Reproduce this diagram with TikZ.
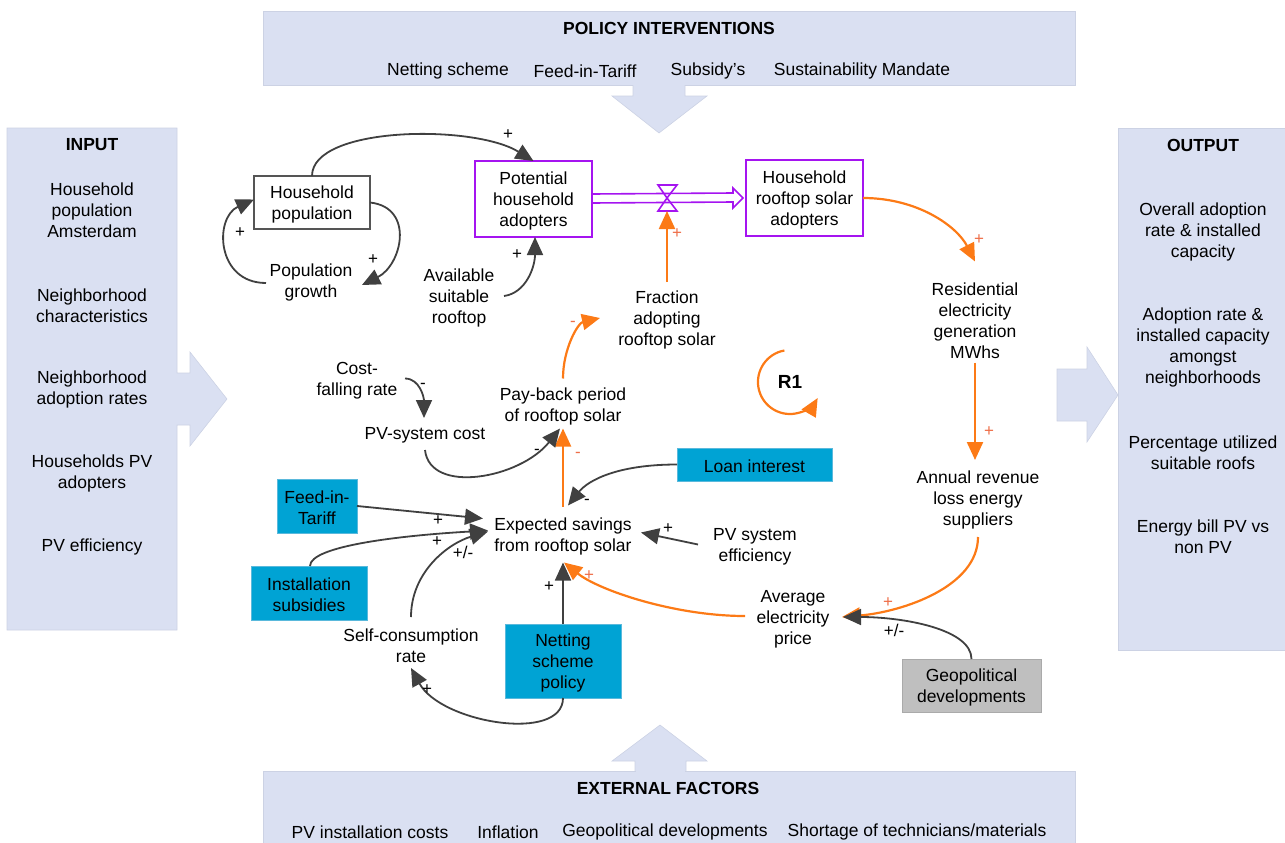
\documentclass[tikz,border=0pt]{standalone}
\usepackage{fontspec}
\setmainfont{Liberation Sans}
\usetikzlibrary{arrows.meta,calc}

\definecolor{panel}{RGB}{218,224,242}
\definecolor{paneledge}{RGB}{204,210,228}
\definecolor{linkc}{RGB}{64,64,64}
\definecolor{loopc}{RGB}{252,122,22}
\definecolor{loopsign}{RGB}{238,110,72}
\definecolor{stockc}{RGB}{165,20,240}
\definecolor{leverc}{RGB}{0,163,212}
\definecolor{leveredge}{RGB}{90,185,220}
\definecolor{extc}{RGB}{191,191,191}
\definecolor{extedge}{RGB}{170,170,170}
\definecolor{boxedge}{RGB}{85,85,85}

\newcommand{\txtfont}{\fontsize{17.5pt}{21pt}\selectfont}
\newcommand{\sgnfont}{\fontsize{17pt}{17pt}\selectfont}
% a zero-width strut on the first line centres the letter bodies on the node
\newcommand{\fs}{\rule{0pt}{16.5pt}}

\tikzset{
  var/.style={align=center, inner sep=2pt, font=\txtfont},
  head/.style={align=center, inner sep=2pt, font=\txtfont\bfseries},
  stockbox/.style={draw=stockc, line width=2pt, minimum width=117pt, minimum height=76pt,
    align=center, font=\txtfont, inner sep=1pt},
  levelbox/.style={draw=boxedge, line width=1.8pt, minimum width=116pt, minimum height=53pt,
    align=center, font=\txtfont, inner sep=1pt},
  leverbox/.style={fill=leverc, draw=leveredge, line width=0.6pt, align=center,
    font=\txtfont, inner sep=1pt},
  extbox/.style={fill=extc, draw=extedge, line width=0.8pt, align=center,
    font=\txtfont, inner sep=1pt},
  link/.style={draw=linkc, line width=1.8pt, -{Triangle[length=18pt,width=16pt]}},
  looplink/.style={draw=loopc, line width=2.2pt, -{Triangle[length=18pt,width=16pt]}},
  sign/.style={font=\sgnfont, inner sep=0pt, text=black},
  osign/.style={sign, text=loopsign},
  panelfill/.style={fill=panel, draw=paneledge, line width=0.6pt}
}

\begin{document}
\begin{tikzpicture}[x=1pt, y=-1pt]
\useasboundingbox (0,0) rectangle (1285,843);

% ---------- framing panels ----------
\path[panelfill] (263,11) rectangle (1075,85);
\path[panelfill] (633,85) -- (633,96) -- (612,96) -- (659,133) -- (707,96) -- (685,96) -- (685,85);
\fill[panel] (634,84) rectangle (684,97);

\path[panelfill] (263,771) rectangle (1075,843);
\path[panelfill] (635,771) -- (635,761) -- (612,761) -- (660,725) -- (707,761) -- (686,761) -- (686,771);
\fill[panel] (636,760) rectangle (685,772);

\path[panelfill] (7,128) -- (177,128) -- (177,373) -- (190,373) -- (190,352) -- (227,399)
  -- (190,446) -- (190,425) -- (177,425) -- (177,630) -- (7,630) -- cycle;

\path[panelfill] (1118,128) rectangle (1285,650);
\path[panelfill] (1057,369) -- (1087,369) -- (1087,347) -- (1118,395) -- (1087,442)
  -- (1087,421) -- (1057,421) -- cycle;

% panel texts
\node[head] (polt) at (669,28) {POLICY INTERVENTIONS};
\node[var] (pol1) at (448,69) {\fs Netting scheme};
\node[var] (pol2) at (585,69) {\fs Feed-in-Tariff};
\node[var] (pol3) at (708,69) {\fs Subsidy's};
\node[var] (pol4) at (862,69) {\fs Sustainability Mandate};

\node[head] (extt) at (668,788) {EXTERNAL FACTORS};
\node[var] (ext1) at (370,830) {\fs PV installation costs};
\node[var] (ext2) at (508,830) {\fs Inflation};
\node[var] (ext3) at (665,830) {\fs Geopolitical developments};
\node[var] (ext4) at (917,830) {\fs Shortage of technicians/materials};

\node[head] (int) at (92,145) {INPUT};
\node[var] (in1) at (92,208) {\fs Household\\population\\Amsterdam};
\node[var] (in2) at (92,303.5) {\fs Neighborhood\\characteristics};
\node[var] (in3) at (92,387.5) {\fs Neighborhood\\adoption rates};
\node[var] (in4) at (92,471.5) {\fs Households PV\\adopters};
\node[var] (in5) at (92,545) {\fs PV efficiency};

\node[head] (outt) at (1203,145) {OUTPUT};
\node[var] (out1) at (1203,230) {\fs Overall adoption\\rate \& installed\\capacity};
\node[var] (out2) at (1203,345.5) {\fs Adoption rate \&\\installed capacity\\amongst\\neighborhoods};
\node[var] (out3) at (1203,450.5) {\fs Percentage utilized\\suitable roofs};
\node[var] (out4) at (1203,534.5) {\fs Energy bill PV vs\\non PV};

% ---------- model variables ----------
\node[levelbox] (hp) at (312,202.5) {\fs Household\\population};
\node[stockbox] (pha) at (533.5,199) {\fs Potential\\household\\adopters};
\node[stockbox] (hrsa) at (804.5,198) {\fs Household\\rooftop solar\\adopters};

\node[var] (pg) at (311,281) {\fs Population\\growth};
\node[var] (asr) at (459,296) {\fs Available\\suitable\\rooftop};
\node[var] (fr) at (667,318) {\fs Fraction\\adopting\\rooftop solar};
\node[var] (res) at (975,318.5) {\fs Residential\\electricity\\generation\\MWhs};
\node[var] (cfr) at (357,378.5) {\fs Cost-\\falling rate};
\node[var] (pvc) at (425,433) {\fs PV-system cost};
\node[var] (pb) at (563,404.5) {\fs Pay-back period\\of rooftop solar};
\node[inner sep=1pt, font=\fontsize{19pt}{19pt}\selectfont\bfseries] (r1) at (790,382) {R1};
\node[leverbox, minimum width=155pt, minimum height=33pt] (li) at (754.5,464.5) {\fs Loan interest};
\node[var] (arl) at (978,498) {\fs Annual revenue\\loss energy\\suppliers};
\node[leverbox, minimum width=80pt, minimum height=54pt] (fit) at (317,506) {\fs Feed-in-\\Tariff};
\node[var] (es) at (563,534.5) {\fs Expected savings\\from rooftop solar};
\node[var] (pve) at (755,544.5) {\fs PV system\\efficiency};
\node[leverbox, minimum width=116pt, minimum height=54pt] (is) at (309,593) {\fs Installation\\subsidies};
\node[var] (aep) at (793,617) {\fs Average\\electricity\\price};
\node[var] (scr) at (411,644) {\fs Self-consumption\\rate};
\node[leverbox, minimum width=116pt, minimum height=74pt] (nsp) at (563,661) {\fs Netting\\scheme\\policy};
\node[extbox, minimum width=139pt, minimum height=53pt] (geo) at (971.5,685.5) {\fs Geopolitical\\developments};

% ---------- stock-and-flow pipe with valve ----------
\coordinate (vc) at (667,198);
\coordinate (vb) at (667,211);
\draw[stockc, line width=1.6pt, line join=miter]
  ($(pha.east)+(0,-5)$) -- ($(hrsa.west)+(-12,-5)$) -- ($(hrsa.west)+(-12,-10)$)
  -- ($(hrsa.west)+(-2,0)$) -- ($(hrsa.west)+(-12,10)$) -- ($(hrsa.west)+(-12,4)$)
  -- ($(pha.east)+(0,4)$);
\draw[stockc, line width=1.6pt, line join=miter] (658,185) -- (677,185) -- (vc) -- cycle;
\draw[stockc, line width=1.6pt, line join=miter] (658,211) -- (677,211) -- (vc) -- cycle;

% ---------- causal links ----------
\draw[link] ($(hp)+(0,-26.5)$) .. controls +(0,-50) and +(-60,-37) .. ($(pha)+(0,-38)$);
\draw[link] ($(hp)+(58,0)$) .. controls +(45,5) and +(40,-20) .. ($(pg)+(51,4)$);
\draw[link] ($(pg)+(-45,2)$) .. controls +(-50,0) and +(-40,18) .. ($(hp)+(-58,-3)$);
\draw[link] ($(asr)+(45,0)$) .. controls +(22,-3) and +(0,30) .. ($(pha)+(1.5,38)$);
\draw[looplink] ($(fr)+(0,-36)$) -- (vb);
\draw[looplink] ($(hrsa)+(58.5,0)$) .. controls +(55,0) and +(-18,-35) .. ($(res)+(0,-57)$);
\draw[looplink] ($(res)+(0,44)$) -- ($(arl)+(-3,-38)$);
\draw[looplink] ($(arl)+(0,39)$) .. controls +(0,50) and +(60,-5) .. ($(aep)+(49,0)$);
\draw[link] ($(geo)+(0,-26.5)$) .. controls +(0,-30) and +(60,0) .. ($(aep)+(50,0)$);
\draw[looplink] ($(aep)+(-48,-1)$) .. controls +(-70,0) and +(35,28) .. ($(es)+(1,28)$);
\draw[link] ($(nsp)+(0,-37)$) -- ($(es)+(0,28)$);
\draw[link] ($(nsp)+(0,37)$) .. controls +(0,45) and +(30,55) .. ($(scr)+(0,24)$);
\draw[link] ($(scr)+(0,-27)$) .. controls +(0,-45) and +(-40,12) .. ($(es)+(-75,-3)$);
\draw[link] ($(is)+(1,-27)$) .. controls +(0,-20) and +(-88,5) .. ($(es)+(-75,-4)$);
\draw[link] ($(fit)+(40,0)$) -- ($(es)+(-80,-16)$);
\draw[link] ($(pve)+(-57,0)$) -- ($(es)+(78,-2)$);
\draw[looplink] ($(es)+(0,-28)$) -- ($(pb)+(0,24)$);
\draw[link] ($(li)+(-77.5,0)$) .. controls +(-60,0) and +(20,-25) .. ($(es)+(5,-29)$);
\draw[link] ($(pvc)+(0,17)$) .. controls +(5,45) and +(-40,50) .. ($(pb)+(-3,24)$);
\draw[link] ($(cfr)+(48,0)$) .. controls +(15,0) and +(0,-20) .. ($(pvc)+(-1,-15)$);
\draw[looplink] ($(pb)+(0,-26)$) .. controls +(0,-30) and +(-22,5) .. ($(fr)+(-67,0)$);

% reinforcing loop marker
\draw[looplink] ($(r1)+(-5.6,-31.5)$) arc[start angle=100, end angle=330, radius=32pt];

% ---------- polarity signs ----------
\node[sign] (s1) at (508,135) {+};
\node[sign] (s2) at (373,260) {+};
\node[sign] (s3) at (240,233) {+};
\node[sign] (s4) at (517,255) {+};
\node[osign] (s5) at (677,234) {+};
\node[osign] (s6) at (979,240) {+};
\node[osign] (s7) at (989,432) {+};
\node[osign] (s8) at (888,603) {+};
\node[sign] (s9) at (894,630) {+/-};
\node[osign] (s10) at (589,576) {+};
\node[sign] (s11) at (549,587) {+};
\node[sign] (s12) at (427,690) {+};
\node[sign] (s13) at (463,552) {+/-};
\node[sign] (s14) at (437,542) {+};
\node[sign] (s15) at (438,521) {+};
\node[sign] (s16) at (668,529) {+};
\node[osign] (s17) at (578,455) {-};
\node[sign] (s18) at (587,502) {-};
\node[sign] (s19) at (537,452) {-};
\node[sign] (s20) at (423,386) {-};
\node[osign] (s21) at (573,324) {-};
\end{tikzpicture}
\end{document}
